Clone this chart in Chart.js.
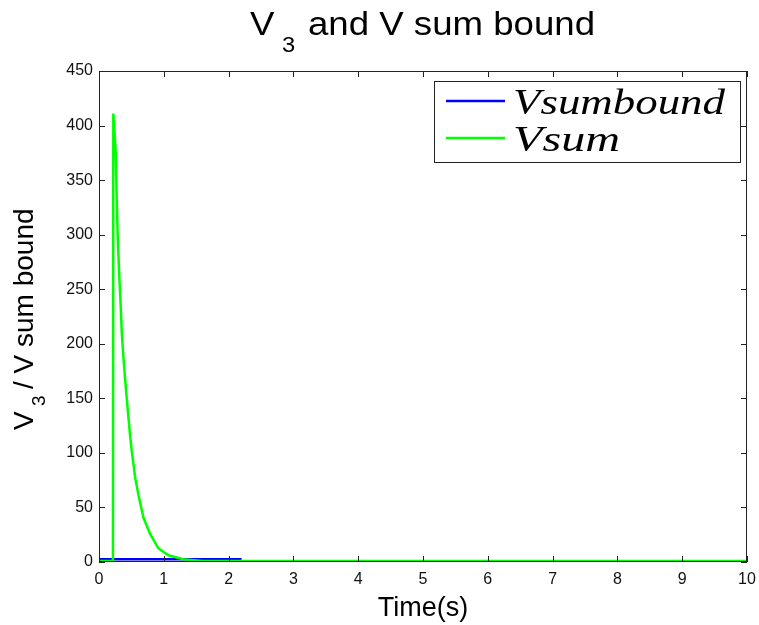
<!DOCTYPE html>
<html>
<head>
<meta charset="utf-8">
<script src="https://cdn.jsdelivr.net/npm/chart.js@4.4.1/dist/chart.umd.min.js"></script>
<style>
  html, body { margin: 0; padding: 0; background: #fff; }
  #wrap { width: 759px; height: 625px; }
</style>
</head>
<body>
<div id="wrap"><canvas id="voltChart" width="759" height="625"></canvas></div>
<script>
// time axis (s) and the two traces
const boundTime = [0, 2.2];
const boundValue = [2.5, 2.5];

const sumTime = [0, 0.215, 0.221, 0.258, 0.273, 0.289, 0.313, 0.335, 0.35, 0.375, 0.401,
    0.427, 0.452, 0.478, 0.505, 0.529, 0.556, 0.607, 0.684, 0.787, 0.915, 1.07, 1.3, 1.6, 10];
const sumValue = [1, 1, 411, 376, 334, 298, 262, 235, 212, 189, 169,
    151, 134, 117, 102, 91, 78, 62, 41, 26, 12.6, 6.2, 2.5, 1, 1];

const xTicks = [0, 1, 2, 3, 4, 5, 6, 7, 8, 9, 10];
const yTicks = [0, 50, 100, 150, 200, 250, 300, 350, 400, 450];

const seriesLabels = ['Vsumbound', 'Vsum'];
const seriesColors = ['#0000ff', '#00ff00'];

const sansFont = "'Liberation Sans', Arial, sans-serif";

function toPoints(xs, ys) {
    return xs.map((x, i) => ({ x: x, y: ys[i] }));
}

//axes box with inward ticks on all four sides
const boxPlugin = {
    id: 'boxPlugin',
    afterDatasetsDraw(chart) {
        const ctx = chart.ctx;
        const area = chart.chartArea;
        const xs = chart.scales.x;
        const ys = chart.scales.y;
        const len = 6;

        ctx.save();
        ctx.strokeStyle = '#222';
        ctx.lineWidth = 1;
        ctx.strokeRect(area.left + 0.5, area.top + 0.5, area.right - area.left - 1, area.bottom - area.top - 1);

        ctx.beginPath();
        xs.ticks.forEach(t => {
            const px = Math.round(xs.getPixelForValue(t.value)) + 0.5;
            ctx.moveTo(px, area.bottom);
            ctx.lineTo(px, area.bottom - len);
            ctx.moveTo(px, area.top);
            ctx.lineTo(px, area.top + len);
        });
        ys.ticks.forEach(t => {
            const py = Math.round(ys.getPixelForValue(t.value)) + 0.5;
            ctx.moveTo(area.left, py);
            ctx.lineTo(area.left + len, py);
            ctx.moveTo(area.right, py);
            ctx.lineTo(area.right - len, py);
        });
        ctx.stroke();
        ctx.restore();
    }
};

//title and y label both need a subscript, so they are drawn by hand
const textPlugin = {
    id: 'textPlugin',
    afterDraw(chart) {
        const ctx = chart.ctx;
        ctx.save();
        ctx.fillStyle = '#000';
        ctx.textBaseline = 'alphabetic';
        ctx.textAlign = 'left';

        // title
        ctx.font = '34px ' + sansFont;
        const rest = 'and V sum bound';
        const sx = 287 / ctx.measureText(rest).width;
        ctx.save();
        ctx.translate(250, 35);
        ctx.scale(sx, 1);
        ctx.fillText('V', 0, 0);
        ctx.fillText(rest, 58 / sx, 0);
        ctx.font = '22px ' + sansFont;
        ctx.fillText('3', 32 / sx, 17);
        ctx.restore();

        // y axis label
        ctx.save();
        ctx.translate(33, 430);
        ctx.rotate(-Math.PI / 2);
        ctx.font = '28px ' + sansFont;
        ctx.fillText('V', 0, 0);
        ctx.fillText('/ V sum bound', 41, 0);
        ctx.font = '19px ' + sansFont;
        ctx.fillText('3', 24, 12);
        ctx.restore();

        // legend
        const lx = 434, ly = 81, lw = 306, lh = 81;
        ctx.fillStyle = '#fff';
        ctx.fillRect(lx, ly, lw, lh);
        ctx.strokeStyle = '#222';
        ctx.lineWidth = 1;
        ctx.strokeRect(lx + 0.5, ly + 0.5, lw, lh);

        const rows = [101, 138];
        const widths = [212, 107];
        chart.data.datasets.forEach((ds, i) => {
            ctx.strokeStyle = ds.borderColor;
            ctx.lineWidth = 2.5;
            ctx.beginPath();
            ctx.moveTo(446, rows[i]);
            ctx.lineTo(505, rows[i]);
            ctx.stroke();

            ctx.fillStyle = '#000';
            ctx.font = 'italic 36px "Liberation Serif", "Times New Roman", serif';
            const k = widths[i] / ctx.measureText(ds.label).width;
            ctx.save();
            ctx.translate(513, rows[i] + 13);
            ctx.scale(k, 1);
            ctx.fillText(ds.label, 0, 0);
            ctx.restore();
        });
        ctx.restore();
    }
};

const ctx = document.getElementById('voltChart').getContext('2d');
const voltChart = new Chart(ctx, {
    type: 'line',
    data: {
        datasets: [
            {
                label: seriesLabels[0],
                data: toPoints(boundTime, boundValue),
                borderColor: seriesColors[0],
                borderWidth: 2.5,
                pointRadius: 0,
                tension: 0,
                order: 1
            }, {
                label: seriesLabels[1],
                data: toPoints(sumTime, sumValue),
                borderColor: seriesColors[1],
                borderWidth: 2.5,
                pointRadius: 0,
                tension: 0,
                order: 0
            }
        ]
    },
    options: {
        responsive: false,
        animation: false,
        devicePixelRatio: 1,
        layout: {
            padding: { top: 71, right: 12, left: 0, bottom: 0 }
        },
        plugins: {
            legend: { display: false },
            tooltip: { enabled: false },
            title: { display: false }
        },
        scales: {
            x: {
                type: 'linear',
                min: 0,
                max: 10,
                afterBuildTicks(scale) {
                    scale.ticks = xTicks.map(v => ({ value: v }));
                },
                afterFit(scale) {
                    scale.height = 63;
                    scale.paddingLeft = 0;
                    scale.paddingRight = 0;
                },
                grid: { display: false, drawTicks: false },
                border: { display: false },
                ticks: {
                    color: '#111',
                    padding: 8,
                    maxRotation: 0,
                    font: { family: sansFont, size: 16 }
                },
                title: {
                    display: true,
                    text: 'Time(s)',
                    color: '#000',
                    padding: { top: 0, bottom: 0 },
                    font: { family: sansFont, size: 27 }
                }
            },
            y: {
                type: 'linear',
                min: 0,
                max: 450,
                afterBuildTicks(scale) {
                    scale.ticks = yTicks.map(v => ({ value: v }));
                },
                afterFit(scale) {
                    scale.width = 99;
                    scale.paddingTop = 0;
                    scale.paddingBottom = 0;
                },
                grid: { display: false, drawTicks: false },
                border: { display: false },
                ticks: {
                    color: '#111',
                    padding: 6,
                    font: { family: sansFont, size: 16 }
                }
            }
        }
    },
    plugins: [boxPlugin, textPlugin]
});
</script>
</body>
</html>
